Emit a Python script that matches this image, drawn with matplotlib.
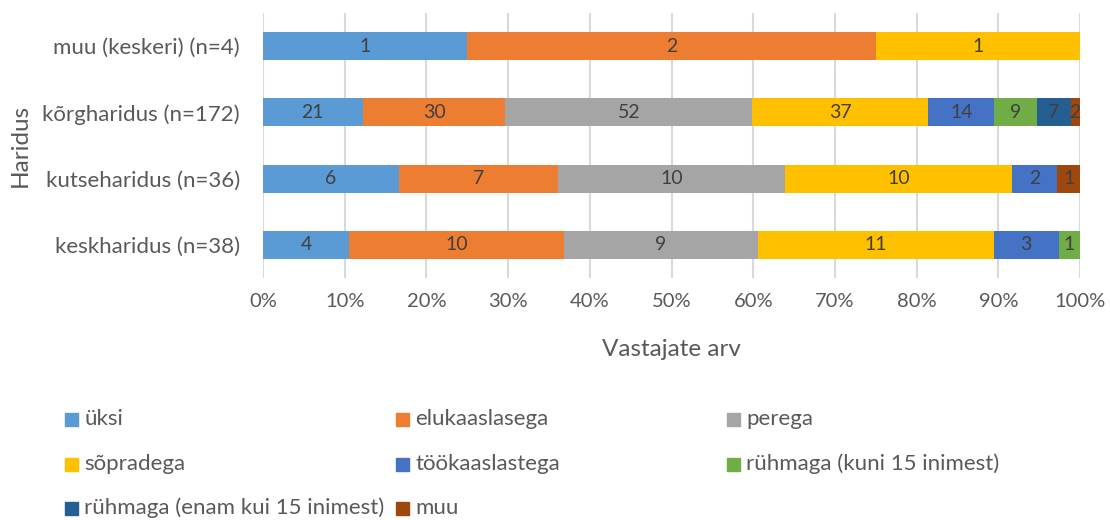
import numpy as np
import matplotlib.pyplot as plt
from matplotlib.patches import Rectangle

plt.rcParams['font.family'] = ['Lato', 'DejaVu Sans']

groups = ['keskharidus (n=38)', 'kutseharidus (n=36)', 'kõrgharidus (n=172)', 'muu (keskeri) (n=4)']
series = ['üksi', 'elukaaslasega', 'perega', 'sõpradega', 'töökaaslastega',
          'rühmaga (kuni 15 inimest)', 'rühmaga (enam kui 15 inimest)', 'muu']
colors = ['#5B9BD5', '#ED7D31', '#A5A5A5', '#FFC000', '#4472C4', '#70AD47', '#255E91', '#9E480E']
counts = np.array([
    # keskharidus, kutseharidus, kõrgharidus, muu (keskeri)
    [4, 6, 21, 1],    # üksi
    [10, 7, 30, 2],   # elukaaslasega
    [9, 10, 52, 0],   # perega
    [11, 10, 37, 1],  # sõpradega
    [3, 2, 14, 0],    # töökaaslastega
    [1, 0, 9, 0],     # rühmaga (kuni 15)
    [0, 0, 7, 0],     # rühmaga (enam kui 15)
    [0, 1, 2, 0],     # muu
])

grey = '#595959'
W, H = 1110, 520
fig = plt.figure(figsize=(W / 100, H / 100), dpi=100)
ax = fig.add_axes([263 / W, 1 - 278 / H, (1080 - 263) / W, (278 - 13) / H])

shares = counts / counts.sum(axis=0)
y = np.arange(len(groups))
left = np.zeros(len(groups))
for i, name in enumerate(series):
    bars = ax.barh(y, shares[i], left=left, height=0.42, color=colors[i], zorder=3)
    for j, b in enumerate(bars):
        if counts[i, j] > 0:
            ax.text(left[j] + shares[i, j] / 2, y[j], str(counts[i, j]),
                    ha='center', va='center', fontsize=14, color='#404040', zorder=4)
    left += shares[i]

ax.set_xlim(0, 1)
ax.set_ylim(-0.5, len(groups) - 0.5)
ax.set_xticks(np.linspace(0, 1, 11))
ax.set_xticklabels([f'{int(v)}%' for v in np.linspace(0, 100, 11)], fontsize=14.5, color=grey)
ax.set_yticks(y)
ax.set_yticklabels(groups, fontsize=16, color=grey)
ax.tick_params(length=0)
ax.tick_params(axis='y', pad=16.5)
ax.tick_params(axis='x', pad=11)
ax.grid(axis='x', color='#D9D9D9', linewidth=1.5, zorder=0)
for s in ax.spines.values():
    s.set_visible(False)

fig.text(671 / W, 1 - 350 / H, 'Vastajate arv', fontsize=17.5, color=grey, ha='center', va='center')
fig.text(20 / W, 1 - 145 / H, 'Haridus', fontsize=17.5, color=grey, ha='center', va='center', rotation=90)

# Excel-style legend, row-wise with equal column widths
col_x = [65, 396, 727]
row_y = [419, 464, 508]
for k, name in enumerate(series):
    cx = col_x[k % 3]
    cy = row_y[k // 3]
    fig.patches.append(Rectangle((cx / W, 1 - (cy + 6.5) / H), 13 / W, 13 / H, color=colors[k],
                                 transform=fig.transFigure, figure=fig))
    fig.text((cx + 19) / W, 1 - cy / H, name, fontsize=16, color=grey, va='center', ha='left')

fig.savefig('out.png', dpi=100)
